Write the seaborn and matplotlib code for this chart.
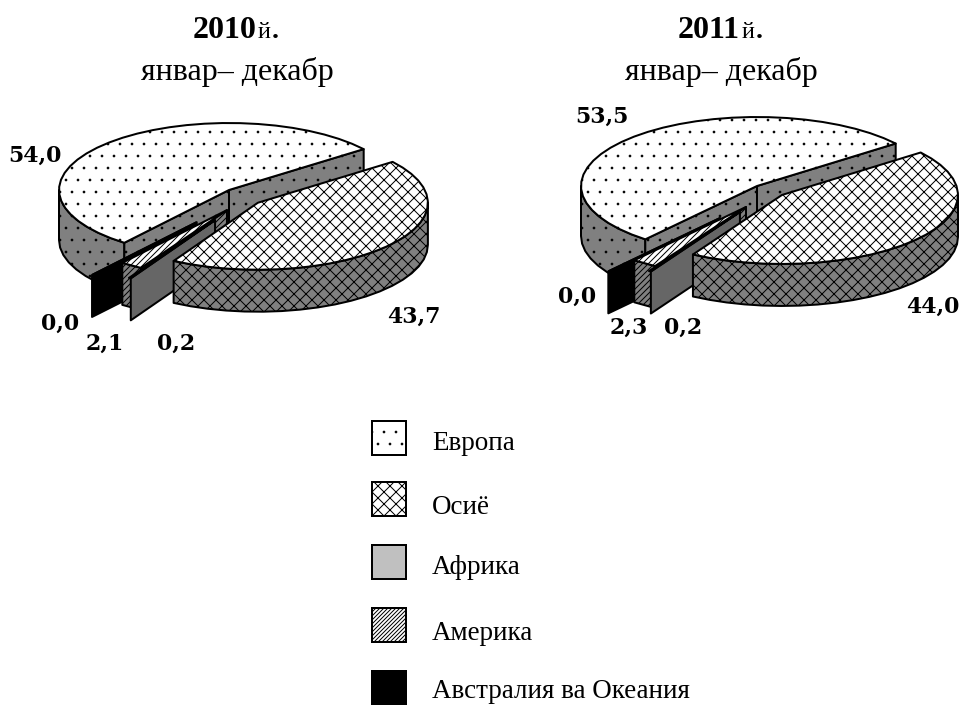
# -*- coding: utf-8 -*-
# two exploded pseudo-3d pies, share by region, 2010 and 2011
import numpy as np
import matplotlib
matplotlib.use('Agg')
import matplotlib.hatch
import matplotlib.pyplot as plt
from matplotlib.patches import Polygon, Rectangle
import seaborn as sns

# data
regions = ['Европа', 'Осиё', 'Африка', 'Америка', 'Австралия ва Океания']
values_2010 = [54.0, 43.7, 0.2, 2.1, 0.0]
values_2011 = [53.5, 44.0, 0.2, 2.3, 0.0]
years = ['2010', '2011']
period = 'январ– декабр'

# styles per region
top_colors = ['white', 'white', '#c0c0c0', 'white', 'black']
side_colors = ['#808080', '#808080', '#666666', '#808080', 'black']
hatches = ['.', 'xx', None, '////', None]
swatch_hatches = ['.', 'xx', None, '//////', None]

# layout of each pie, in pixels of the figure
pies = [
    dict(values=values_2010, cx=229, cy=190, rx=170, ry=67, start=37.6,
         shift=[(0, 0), (.17, -.19), (-.082, -.45), (-.012, -.30), (-.19, -.48)],
         labels=[(35, 156), (414, 317), (176, 344), (105, 344), (60, 324)],
         title_x=237),
    dict(values=values_2011, cx=757, cy=186, rx=176, ry=69, start=38.0,
         shift=[(0, 0), (.142, -.13), (-.097, -.377), (-.0625, -.304), (-.21, -.464)],
         labels=[(602, 117), (933, 307), (683, 328), (629, 328), (577, 297)],
         title_x=721),
]
depths = [50, 42, 42, 42, 42]
legend_y = [438, 499, 562, 625, 688]
legend_text_y = [444, 507, 567, 634, 692]

sns.set_theme(style='white', rc={'hatch.linewidth': 1.0})
plt.rcParams['font.family'] = ['Liberation Serif', 'DejaVu Serif']

# smaller dots than the default '.' hatch
matplotlib.hatch.SmallFilledCircles.size = 0.07

fig, ax = plt.subplots(figsize=(963 / 72, 705 / 72), dpi=72)
fig.subplots_adjust(0, 0, 1, 1)
ax.set_xlim(0, 963)
ax.set_ylim(705, 0)
ax.axis('off')


def rim(cx, cy, rx, ry, a1, a2):
    # points of the rim between two angles, coarse on purpose
    n = max(2, int(abs(a2 - a1) / 6) + 1)
    t = np.radians(np.linspace(a1, a2, n))
    return np.column_stack([cx + rx * np.cos(t), cy - ry * np.sin(t)])


def poly(points, color, hatch=None, lw=2):
    ax.add_patch(Polygon(points, closed=True, facecolor=color, edgecolor='black',
                         hatch=hatch, linewidth=lw, joinstyle='round'))


def outer_wall(cx, cy, rx, ry, a1, a2, depth, color, hatch):
    # only the part of the rim that looks towards the viewer
    lo, hi = max(a1, -180), min(a2, 0)
    if hi <= lo:
        return
    pts = rim(cx, cy, rx, ry, lo, hi)
    poly(np.vstack([pts, pts[::-1] + [0, depth]]), color, hatch)


def cut_face(cx, cy, rx, ry, a, depth, color, hatch):
    end = rim(cx, cy, rx, ry, a, a)[0]
    poly([(cx, cy), end, end + [0, depth], (cx, cy + depth)], color, hatch)


for pie in pies:
    vals = np.array(pie['values'])
    # clockwise, europe first and it ends at the start angle
    spans = vals / vals.sum() * 360
    edges = pie['start'] + spans[0] - np.concatenate([[0], np.cumsum(spans)])
    cx, cy, rx, ry = pie['cx'], pie['cy'], pie['rx'], pie['ry']

    # painter's order: europe, australia, america, africa, asia
    for i in [0, 4, 3, 2, 1]:
        a_hi, a_lo = edges[i], edges[i + 1]
        x0 = cx + pie['shift'][i][0] * rx
        y0 = cy - pie['shift'][i][1] * ry
        d = depths[i]
        if i == 0:
            outer_wall(x0, y0, rx, ry, -180, a_hi - 360, d, side_colors[i], hatches[i])
            cut_face(x0, y0, rx, ry, a_lo, d, side_colors[i], hatches[i])
            cut_face(x0, y0, rx, ry, a_hi, d, side_colors[i], hatches[i])
        elif i == 1:
            outer_wall(x0, y0, rx, ry, a_lo, a_hi, d, side_colors[i], hatches[i])
        elif i == 3:
            cut_face(x0, y0, rx, ry, a_hi, d, side_colors[i], hatches[i])
            outer_wall(x0, y0, rx, ry, a_lo, a_hi, d, side_colors[i], hatches[i])
        else:
            cut_face(x0, y0, rx, ry, a_hi, d, side_colors[i], hatches[i])
        # top of the slice
        top = np.vstack([[(x0, y0)], rim(x0, y0, rx, ry, a_hi, a_lo)])
        poly(top, top_colors[i], hatches[i])

    # data labels
    for v, (lx, ly) in zip(vals, pie['labels']):
        ax.text(lx, ly, f'{v:.1f}'.replace('.', ','), family='DejaVu Serif', weight='bold',
                fontsize=22, ha='center', va='center', color='black')

# titles
for year, pie in zip(years, pies):
    ax.text(pie['title_x'] - 12, 30, year, weight='bold', fontsize=32, ha='center',
            va='center', color='black')
    ax.text(pie['title_x'] + 21, 32, 'й', fontsize=24, ha='left', va='center', color='black')
    ax.text(pie['title_x'] + 35, 31, '.', weight='bold', fontsize=28, ha='left', va='center', color='black')
    ax.text(pie['title_x'], 72, period, fontsize=32, ha='center', va='center', color='black')

# legend
for name, color, hatch, y, ty in zip(regions, top_colors, swatch_hatches, legend_y, legend_text_y):
    ax.add_patch(Rectangle((372, y - 17), 34, 34, facecolor=color, edgecolor='black', hatch=hatch, linewidth=2))
    ax.text(432, ty, name, fontsize=27, ha='left', va='center', color='black')

fig.savefig('out.png', dpi=72)
